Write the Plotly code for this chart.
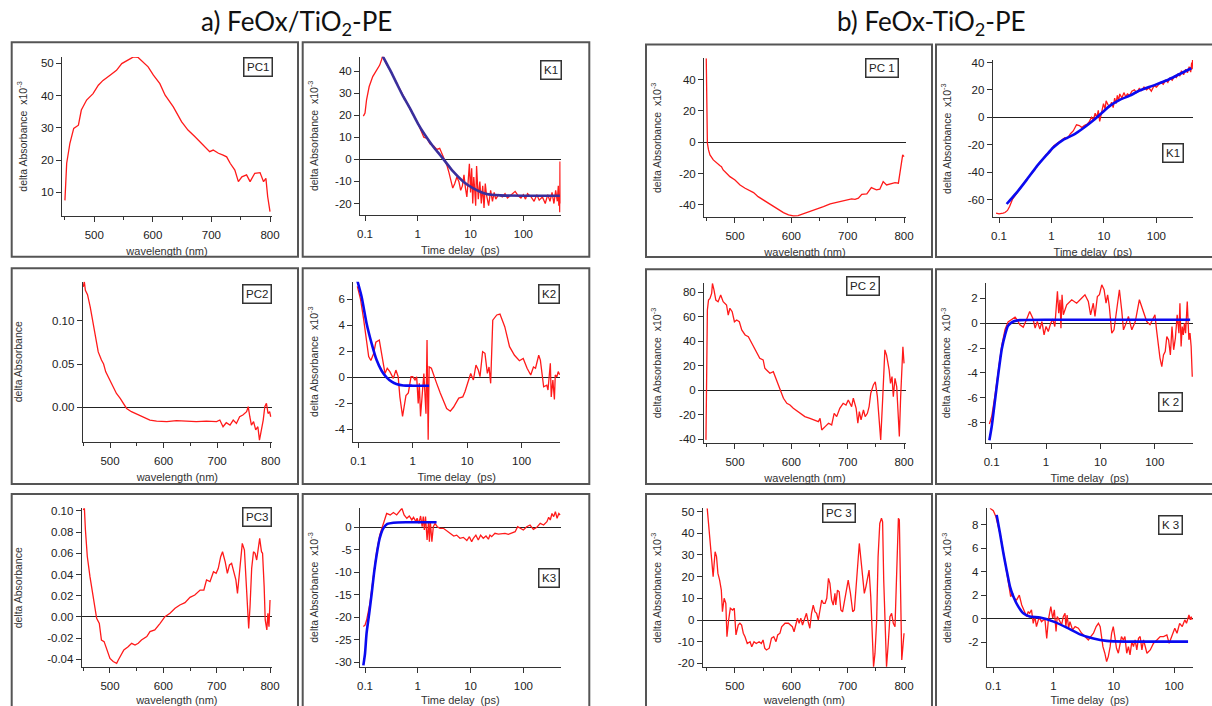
import plotly.graph_objects as go

W, H = 1212, 706

# ------------------------------------------------------------------ data
# a) FeOx/TiO2-PE  -- principal components (wavelength nm, dA)
pc1a = [(450, 7.5), (452, 13.8), (453, 19), (458.5, 25.2), (465, 29.8), (473, 30.8), (478, 35.5),
        (487, 38.6), (498, 40.6), (507, 43.2), (515, 44.7), (527, 46.3), (538, 47.8), (547, 49.9),
        (558, 51.1), (567, 52), (575, 51.8), (584, 50.4), (592, 48.9), (601, 46.3), (612, 43.7),
        (621, 40.1), (635, 36.5), (649, 31.9), (660, 29.3), (672, 27.2), (680, 25.7), (692, 23.6),
        (697, 22.6), (703, 23.1), (712, 22.1), (720, 21.5), (726, 21), (732, 19), (736, 17.9),
        (740, 16.9), (746, 13.3), (752, 14.8), (760, 15.4), (766, 13.3), (774, 15.9), (783, 16.1),
        (789, 13.3), (793, 14.3), (796, 8.7), (800, 4)]

pc2a = [(450, 0.139), (452, 0.145), (454, 0.135), (458, 0.130), (463, 0.116), (468, 0.097),
        (472, 0.0815), (478, 0.064), (484, 0.0546), (488, 0.05), (492, 0.041), (500, 0.0315),
        (506, 0.024), (512, 0.016), (519, 0.0104), (525, 0.0038), (531, -0.0012), (540, -0.005),
        (550, -0.0077), (562, -0.0115), (574.5, -0.0146), (587, -0.0158), (606, -0.0165),
        (624, -0.0154), (643, -0.0158), (661, -0.0165), (680, -0.0158), (699, -0.0165),
        (705, -0.0146), (711, -0.0223), (717, -0.0177), (724, -0.0204), (730, -0.0146),
        (736, -0.0185), (742, -0.0108), (748, -0.0088), (755, -0.005), (758, 0.0008),
        (761, -0.0108), (764, -0.0204), (768, -0.0165), (772, -0.026), (776, -0.0223),
        (779, -0.0377), (782, -0.028), (786, -0.0146), (789, 0.0008), (792, 0.0046),
        (795, -0.007), (798, -0.005), (800, -0.0108)]

pc3a = [(450, 0.1008), (452, 0.103), (454, 0.082), (457.5, 0.057), (462.5, 0.038), (469, 0.016),
        (475, -0.0013), (480, -0.006), (484, -0.0217), (489, -0.0232), (494, -0.031), (500, -0.039),
        (506, -0.042), (512.5, -0.0436), (515.6, -0.0405), (520, -0.0358), (526, -0.031),
        (534, -0.028), (540.6, -0.0248), (547, -0.0264), (553, -0.0248), (559, -0.0217),
        (569, -0.0185), (575, -0.0138), (584, -0.0122), (594, -0.006), (603, 0.0003),
        (612.5, 0.0035), (622, 0.0082), (631, 0.0113), (640.6, 0.0135), (650, 0.0185),
        (659, 0.0207), (669, 0.0254), (676, 0.0254), (681, 0.0349), (687.5, 0.0333),
        (694, 0.0427), (699, 0.0411), (703, 0.0458), (707.5, 0.0568), (711, 0.0615),
        (716, 0.052), (720, 0.0411), (724, 0.049), (728, 0.0505), (732.5, 0.0411),
        (736, 0.0349), (739, 0.0223), (744, 0.0474), (748, 0.0694), (752, 0.0631),
        (755, 0.0349), (758, 0.0035), (760, -0.0107), (762.5, 0.0097), (765.6, 0.0458),
        (769, 0.0615), (772, 0.06), (775, 0.0537), (778, 0.0631), (780.6, 0.074), (784, 0.0615),
        (786, 0.06), (789, 0.0286), (791, -0.0028), (794, -0.0122), (796, 0.0035),
        (798, -0.0091), (799, 0.0097), (800, 0.016)]

# a) kinetics (time ps, dA x1e-3) and fits
k1a = [(0.093, 19.6), (0.1, 21), (0.107, 27), (0.12, 33), (0.14, 37.5), (0.166, 40.5), (0.19, 42.7),
       (0.205, 45), (0.216, 46.8), (0.25, 43.5), (0.3, 40.3), (0.4, 34.5), (0.53, 28.5), (0.71, 23),
       (1.0, 16.5), (1.2, 12.5), (1.3, 10), (1.5, 9.5), (1.7, 7), (2.0, 6), (2.3, 4.5), (2.6, 5),
       (2.9, 2.5), (3.3, -0.5), (3.6, -3), (3.9, -6), (4.3, -10), (4.6, -13), (5.0, -11), (5.5, -8),
       (6.0, -10), (6.5, -14), (7.0, -12), (7.5, -7), (8, -13), (8.5, -17), (9, -10), (9.5, -2),
       (10, -15), (10.5, -4), (11, -20), (11.5, -8), (12, -14), (12.5, -21), (13, -3), (14, -18),
       (15, -10), (16, -20), (17, -12), (18, -22), (19, -11), (20, -16), (22, -21), (24, -14),
       (26, -19), (28, -15), (30, -18), (34, -16), (40, -17), (45, -15.5), (50, -17.5), (60, -16),
       (70, -14.5), (80, -16.5), (90, -17.5), (100, -16), (110, -18), (120, -15.5), (140, -17),
       (160, -19), (180, -16), (200, -18.5), (230, -17), (260, -20), (290, -16), (320, -19),
       (350, -15), (380, -20), (410, -14), (440, -19), (460, -12), (470, -21), (480, -16),
       (490, -24), (495, -1), (500, -20)]
k1a_fit = [(0.216, 46.8), (0.298, 40.5), (0.398, 34.4), (0.532, 28.4), (0.713, 23.1), (1, 16.3),
           (1.37, 11), (1.97, 5.7), (2.64, 2), (3.53, -1.8), (4.72, -5.6), (7.31, -10.1),
           (11.3, -13.1), (20.2, -15.7), (36.2, -16.3), (155, -16.5), (492, -16.5)]

k2a = [(0.096, 7.0), (0.11, 6.0), (0.125, 4.5), (0.14, 3.0), (0.155, 1.6), (0.17, 1.3), (0.19, 1.8),
       (0.21, 2.7), (0.243, 2.87), (0.309, 0.3), (0.34, 0.7), (0.38, 0.44), (0.44, -0.08),
       (0.49, 0.56), (0.54, 0.05), (0.58, -1.5), (0.65, -3.0), (0.75, -1.4), (0.83, -1.2),
       (0.93, 0.05), (1.0, 0.05), (1.1, -0.2), (1.18, 0.05), (1.26, -2.0), (1.32, -0.46),
       (1.39, -3.0), (1.52, -0.7), (1.6, 0.3), (1.75, -2.8), (1.83, 2.87), (1.92, -4.8), (2.0, 0.8),
       (2.2, 0.7), (2.35, 0.3), (2.75, -0.46), (3.2, -1.2), (4.2, -2.4), (4.9, -2.6), (5.6, -2.3),
       (7.0, -1.6), (8.3, -1.5), (9.1, -1.1), (10.5, -0.2), (11.6, 0.3), (13, -0.2), (14.5, 0.95),
       (16, 0.56), (17.2, 0.05), (19.2, 1.97), (21.2, 1.85), (23.5, 0.3), (25.2, 0.8), (27, -0.46),
       (29.5, 4.4), (35, 4.8), (40, 4.87), (49, 3.9), (60, 2.36), (74, 1.7), (91, 1.28),
       (107, 1.46), (126, 0.7), (147, 0.18), (165, 0.8), (180, 0.7), (206, 1.7), (221, 1.33),
       (254, -0.72), (290, -0.6), (305, -0.97), (337, 1.08), (350, -1.5), (375, -0.2),
       (400, -1.7), (415, 0.18), (445, 0.05), (470, 0.44), (500, 0.2)]
k2a_fit = [(0.096, 7.44), (0.115, 6.2), (0.142, 4.15), (0.176, 2.6), (0.217, 1.33), (0.268, 0.51),
           (0.33, 0), (0.41, -0.33), (0.5, -0.51), (0.67, -0.62), (1, -0.64), (2.0, -0.64)]

k3a = [(0.093, -22.1), (0.1, -21.8), (0.107, -20.7), (0.124, -17), (0.144, -11), (0.166, -5.5),
       (0.19, -1.8), (0.215, 0.07), (0.24, 1.93), (0.257, 3.0), (0.3, 2.67), (0.345, 3.2),
       (0.398, 2.67), (0.46, 3.8), (0.5, 4.15), (0.55, 2.67), (0.62, 1.93), (0.69, 2.44),
       (0.77, 1.56), (0.83, 2.15), (0.92, 1.19), (0.97, 1.93), (1.05, 0.8), (1.13, 2.44),
       (1.21, 0.07), (1.27, 2.3), (1.33, -0.67), (1.4, 2.3), (1.5, -2.9), (1.6, 1.19),
       (1.66, -3.26), (1.73, 1.19), (1.85, -3.26), (1.97, 0.07), (2.12, 0.8), (2.34, 0.07),
       (2.63, -0.3), (3.06, -0.3), (3.5, -0.8), (4.1, -1.4), (4.8, -2.0), (5.45, -1.8), (6.3, -2.5),
       (7.3, -2.3), (8.5, -3.0), (9.5, -2.15), (10.5, -3.26), (11.3, -2.5), (12.6, -1.8),
       (14.0, -2.9), (15.5, -1.8), (17.4, -2.5), (19.6, -2.0), (21.8, -2.7), (23.3, -1.8),
       (25.1, -2.15), (29, -1.4), (33.6, -1.56), (39, -1.56), (45, -1.4), (52, -1.63), (60, -1.26),
       (70, -1.04), (78, 0.07), (86, -0.3), (100, -0.67), (116, 0.07), (134, 0.44), (155, -0.52),
       (180, -0.07), (209, 0.8), (242, 0.44), (280, 1.19), (302, 2.15), (324, 1.56), (349, 3.0),
       (376, 2.3), (405, 3.4), (436, 1.93), (470, 3.0), (500, 2.67)]
k3a_fit = [(0.093, -30.7), (0.1, -28.1), (0.107, -23.6), (0.12, -19.2), (0.134, -14.7),
           (0.148, -10.3), (0.166, -6.2), (0.19, -2.5), (0.222, -0.3), (0.265, 0.67),
           (0.345, 0.96), (0.62, 1.04), (2.27, 1.04)]

# b) FeOx-TiO2-PE -- principal components (wavelength nm, dA x1e-3)
pc1b = [(449, 53.7), (449.5, 27), (450, 5.8), (451, -0.6), (453, -4.9), (455.6, -8.1),
        (461.5, -11.3), (467.5, -13.4), (473, -14.9), (476, -15.6), (479, -17.7), (485, -19.8),
        (491, -22), (500, -24.1), (509, -27.3), (518, -29.4), (527, -30.9), (533, -32.2),
        (541, -34.8), (550, -36.9), (559, -39), (568, -41.2), (577, -43.3), (586, -45),
        (595, -46.5), (603.5, -47.1), (612, -46.9), (621, -45.8), (630, -44.8), (639, -43.7),
        (648, -42.6), (657, -41.2), (669, -39.4), (680, -38.4), (689, -37.5), (698, -36.9),
        (707, -36.2), (713, -36.5), (719, -35.8), (725, -33.3), (734, -33), (742, -29),
        (751, -30.5), (757, -30), (763, -25.2), (769, -27.3), (775, -26.7), (784, -25.8),
        (790, -26.2), (794, -15.6), (797.6, -8.1), (800, -9.2)]

pc2b = [(448.5, -40.5), (450, 41), (451, 65.6), (453, 73.7), (455.6, 75), (458.6, 79.2), (460, 87.3),
        (462.7, 82), (466, 73.7), (470, 72.4), (474.6, 77.8), (479, 72.4), (485, 69.7), (488, 61.5),
        (491, 67), (495, 64.2), (499, 56), (503, 57.4), (507.7, 56), (512, 49.3), (518, 45.2),
        (523.7, 43.8), (531, 37), (538.5, 30.2), (544, 26.1), (550, 24.8), (553, 18), (556, 16.6),
        (562, 13.9), (568, 15.2), (574, 8.4), (580, 1.6), (586, -6.5), (592, -10.6), (597.6, -12),
        (603.5, -14.7), (609.5, -16.6), (615, -18.8), (624, -21.5), (633, -22.9), (642, -24.2),
        (648, -25.6), (651, -22.9), (654, -32.4), (660, -29.7), (666, -26.9), (671.6, -28.3),
        (676, -18.8), (680.5, -21.5), (686, -14.7), (692, -10.6), (697, -12), (701, -7.9),
        (707, -13.3), (710, -6.5), (715, -14.7), (718, -26.9), (720.7, -17.4), (723.7, -24.2),
        (728, -16), (731, -21.5), (735, -18.8), (738, -13.3), (741, -2.4), (745.6, 4.4), (749, 7),
        (752.7, -5.2), (756, -24.2), (758.6, -40.5), (762, -7.9), (766, 33), (769, 28.8),
        (773.6, 16.6), (776, 5.7), (778.7, 11.2), (781, -5.2), (784, 9.8), (787, 3), (790, -25.6),
        (791.7, -37.8), (794, -5.2), (796, 13.9), (798, 35.6), (800, 22)]

pc3b = [(451, 51.5), (453, 44.5), (456, 36.9), (459, 27.6), (461.5, 20), (463, 23.8), (465, 31.5),
        (467.5, 29.2), (470, 21.5), (473, 18.4), (476, 13.8), (478, 3.8), (481, 10), (484, 7.7),
        (486, -7.7), (489, 0), (492, 5.4), (496, 4.6), (499, 5.4), (502, -6.9), (506, -2.3),
        (509, -1.5), (512, -2.3), (515, -6.1), (518, -7.7), (522, -10.8), (527, -10), (530, -12.3),
        (534, -10), (538, -10.8), (543, -10), (547, -10.8), (550, -9.2), (553, -13), (556, -13.8),
        (561, -13), (565, -8.4), (569, -7.7), (573, -10), (576, -6.9), (580, -6.1), (583, -3.1),
        (589, -1.5), (595, -1.5), (598, -2.3), (602, -3.1), (605, -5.4), (608, -1.5), (611, 0.8),
        (614, -1.5), (617, 0.8), (620, -2.3), (624, 1.5), (627, 3.1), (630, -0.8), (633, -3.8),
        (636, 3.1), (639, 6.9), (642, 3.8), (645, 3.1), (648, 0), (651, 4.6), (654, 9.2),
        (657, 7.7), (660, 7.7), (663, 10), (666, 19.2), (668.6, 16.9), (671.6, 9.2), (674.5, 6.9),
        (677.5, 12.3), (679, 6.9), (682, 13.8), (685, 13), (688, 4.6), (691, 3.8), (694, 8.4),
        (697, 13.8), (701, 18.4), (705, 12.3), (709, 3.8), (712, 4.6), (715, 16.9), (718, 24.6),
        (720.7, 35.3), (723.7, 27.6), (726.6, 18.4), (729.6, 12.3), (732.5, 15.4), (735.5, 20),
        (738, 23), (741, 10.8), (744, -9.2), (746, -21.5), (748.5, -15.4), (751.5, 0), (754, 29.2),
        (757, 44.5), (760, 46.9), (762, 45.3), (764, 18.4), (766.9, -6.1), (769, -21.5),
        (772, -10.8), (775, 1.5), (778, 3.1), (781, -1.5), (784, -3.1), (787, 26.1), (790, 46.9),
        (791.7, 46.1), (794, 18.4), (796, -18.4), (798, -12.3), (800, -6.1)]

# b) kinetics (time ps, dA x1e-3) and fits
k1b = [(0.088, -70), (0.1, -70.5), (0.12, -70), (0.13, -69.5), (0.145, -68), (0.16, -65),
       (0.18, -60), (0.22, -55), (0.27, -50), (0.34, -45), (0.42, -41), (0.52, -36), (0.6, -33),
       (0.7, -30), (0.8, -27), (0.9, -26), (1.0, -24), (1.1, -21), (1.2, -20), (1.4, -18),
       (1.6, -17), (1.8, -15), (2.0, -15.5), (2.3, -12), (2.6, -10), (3.0, -5.5), (3.4, -6),
       (3.8, -7.5), (4.2, -6), (4.8, -5), (5.3, -3), (5.8, 0), (6.3, -2), (6.8, 3), (7.3, 0),
       (7.8, 5), (8.3, -3), (8.8, 2), (9.3, 8), (9.8, 10), (10.5, 6), (11, 12), (12, 9), (13, 8),
       (14, 11), (15, 7), (16, 14), (17, 10), (18, 16), (19, 12), (20, 17), (22, 14), (24, 18),
       (26, 15), (28, 17), (31, 16), (34, 19), (38, 20), (42, 18), (47, 21), (52, 19.5), (58, 22),
       (65, 20), (72, 21.5), (80, 19), (90, 23), (100, 22), (110, 24), (120, 25.5), (135, 24),
       (150, 27), (165, 25.5), (180, 28.5), (200, 27), (220, 30), (240, 29), (260, 32), (280, 30),
       (300, 34), (330, 31), (360, 35), (390, 32.5), (420, 37), (450, 33), (470, 40), (480, 35),
       (490, 43), (500, 38)]
k1b_fit = [(0.14, -63.3), (0.217, -55), (0.336, -45.7), (0.52, -36), (0.807, -27.5), (1.08, -22.1),
           (1.67, -16.5), (2.6, -12.9), (4.02, -8), (6.23, -2.4), (8.97, 2.9), (12.9, 8.3),
           (20, 12.7), (31, 15.8), (48, 19.5), (86.5, 23.1), (155, 26.8), (278, 31.6), (462, 35.8)]

k2b = [(0.0906, -8.1), (0.1, -7.5), (0.115, -5.8), (0.133, -3.8), (0.153, -1.8), (0.176, -0.5),
       (0.2, 0.1), (0.269, 0.48), (0.29, 0.3), (0.33, -0.13), (0.38, -0.32), (0.44, 0.32),
       (0.5, 0.94), (0.57, 0.4), (0.63, -0.4), (0.69, 0.13), (0.77, -0.48), (0.84, 0.13),
       (0.92, -0.94), (1.0, -0.27), (1.1, -0.67), (1.22, 0), (1.33, 0.32), (1.45, -0.27),
       (1.53, 1.34), (1.62, 2.55), (1.71, 0.8), (1.81, 1.88), (1.88, -0.4), (1.97, 2.28),
       (2.08, 0.67), (2.4, 1.47), (2.97, 1.88), (3.66, 1.6), (4.5, 2.0), (5.2, 2.28), (6.0, 1.74),
       (6.6, 0.67), (7.4, 1.6), (7.95, 0.54), (8.8, 2.14), (9.6, 2.28), (10.6, 3.08), (11.7, 2.68),
       (12.7, 1.6), (13.6, 2.28), (14.6, 1.34), (16.2, -0.8), (17.8, -0.54), (19.9, 1.2),
       (22.4, 2.68), (24.8, 0.94), (26.6, -0.54), (29.8, 0), (32.8, 0.54), (37.9, -0.54),
       (43.9, 0.13), (52.2, 1.88), (61.9, 0.94), (71.3, 0.13), (82, -0.13), (94.7, 0.4),
       (101, 0.67), (108, -0.54), (116, -1.88), (125, -2.8), (135, -3.5), (145, -2.55),
       (156, -2.28), (167, -1.07), (180, -1.34), (194, -2.55), (208, -0.27), (223, -2.14),
       (240, -1.2), (259, 0.67), (279, -0.8), (291, 1.6), (306, -1.88), (321, -0.27), (336, -0.94),
       (352, 0), (370, -0.8), (397, 1.74), (425, -1.34), (446, -0.8), (468, -1.88), (491, -4.3)]
k2b_fit = [(0.0906, -9.4), (0.1, -8.3), (0.115, -6.2), (0.133, -4.0), (0.153, -2.1), (0.176, -0.94),
           (0.2, -0.2), (0.25, 0.13), (0.33, 0.24), (1.36, 0.27), (449, 0.27)]

k3b = [(0.088, 9.4), (0.1, 9.2), (0.11, 8.7), (0.13, 7.2), (0.15, 5.4), (0.17, 3.8), (0.194, 1.88),
       (0.21, 2.15), (0.22, 1.7), (0.244, 1.6), (0.27, 2.0), (0.296, 1.16), (0.335, 0.6),
       (0.357, 0.17), (0.38, 0.6), (0.4, 0.45), (0.43, 0.74), (0.46, -0.4), (0.49, 0.17),
       (0.52, -0.68), (0.56, -0.11), (0.59, 0.03), (0.63, -0.26), (0.68, -0.11), (0.72, -0.11),
       (0.77, -1.68), (0.82, -0.11), (0.87, 0.45), (0.9, 1.02), (0.97, 0.03), (1.03, 0.74),
       (1.1, -1.1), (1.15, 0.17), (1.24, -0.11), (1.36, -0.54), (1.45, 0.17), (1.55, 0.45),
       (1.6, -0.68), (1.68, 0.31), (1.78, -0.82), (1.87, -0.26), (2.07, -0.97), (2.28, -0.68),
       (2.58, -0.82), (2.93, -1.25), (3.32, -1.53), (3.78, -1.82), (4.14, -1.53), (4.6, -1.25),
       (5.1, -0.68), (5.56, -0.4), (5.94, -0.68), (6.3, -1.53), (6.6, -2.39), (7.1, -2.95),
       (7.6, -3.66), (8.1, -3.24), (8.7, -2.39), (9.2, -1.25), (9.8, -0.68), (10.4, -1.53),
       (11.1, -2.53), (11.9, -2.95), (12.6, -2.39), (13.4, -1.53), (14.4, -1.82), (15.3, -1.53),
       (16.4, -2.95), (17.5, -2.39), (18.6, -3.1), (19.9, -1.96), (21.2, -2.39), (22.6, -1.82),
       (24.1, -2.67), (25.7, -1.68), (27.4, -1.53), (29.3, -2.67), (31.2, -1.82), (35.5, -2.95),
       (40.3, -2.67), (45.7, -2.1), (52, -1.82), (59, -1.53), (67, -1.53), (76, -1.39), (83, -2.1),
       (91, -1.53), (103, -0.82), (112, -1.25), (124, -0.4), (137, -0.68), (151, -0.11),
       (161, -0.4), (177, 0.31), (186, -0.11), (193, 0.17), (200, -0.11)]
k3b_fit = [(0.1135, 8.84), (0.129, 7.27), (0.147, 5.57), (0.166, 4.15), (0.189, 2.73), (0.215, 1.88),
           (0.26, 1.02), (0.315, 0.45), (0.4, 0.17), (0.595, 0.09), (1, -0.26), (1.66, -0.77),
           (2.75, -1.34), (4.6, -1.7), (7.6, -1.9), (16.4, -1.96), (45.5, -1.96), (171, -1.96)]

# tick labels
wl_ticks = [500, 600, 700, 800]
wl_minor = [450, 550, 650, 750]
t_ticks = [0.1, 1, 10, 100]
t_ticktext = ["0.1", "1", "10", "100"]

# ------------------------------------------------------------------ layout helpers
def fx(p):
    return p / W


def fy(p):
    return 1 - p / H


RED = "#ff1a1a"
BLUE = "#0a0af0"
AX = "#333333"
FONT = "Liberation Sans, Arial, sans-serif"

YT_K = "delta Absorbance  x10<sup>-3</sup>"
YT = "delta Absorbance"

# panel geometry (pixel boxes) and axis settings; ysd = y-title standoff
panels = [
    dict(d=pc1a, fit=None, x=(62, 272), y=(57, 216), xr=(445, 803.4), yr=(2.65, 51.95), log=False,
         yt=[10, 20, 30, 40, 50], yfmt="{:g}", ytitle=YT_K, ysd=11, lab="PC1", lab_xy=(257.5, 66.5)),
    dict(d=k1a, fit=k1a_fit, fitcol="#3a2f9c", x=(360, 560.7), y=(56.7, 215), xr=(-1.095, 2.708),
         yr=(-25.2, 46.5), log=True, yt=[-20, -10, 0, 10, 20, 30, 40], yfmt="{:g}", ytitle=YT_K,
         ysd=14, lab="K1", lab_xy=(550.5, 70)),
    dict(d=pc1b, fit=None, x=(704, 906), y=(58.3, 217.3), xr=(445, 803.5), yr=(-48, 53.7), log=False,
         yt=[-40, -20, 0, 20, 40], yfmt="{:g}", ytitle=YT_K, ysd=15, lab="PC 1", lab_xy=(881.5, 68)),
    dict(d=k1b, fit=k1b_fit, fitcol=BLUE, x=(992.7, 1193), y=(60, 217.3), xr=(-1.12, 2.697),
         yr=(-73, 41.8), log=True, yt=[-60, -40, -20, 0, 20, 40], yfmt="{:g}", ytitle=YT_K,
         ysd=14, lab="K1", lab_xy=(1172.8, 153.3)),
    dict(d=pc2a, fit=None, x=(82.7, 272), y=(281.7, 441.7), xr=(449, 802.4), yr=(-0.0396, 0.145),
         log=False, yt=[0.0, 0.05, 0.10], yfmt="{:.2f}", ytitle=YT, ysd=27, lab="PC2",
         lab_xy=(257.3, 294.5)),
    dict(d=k2a, fit=k2a_fit, fitcol=BLUE, x=(353.3, 560), y=(281.7, 441.7), xr=(-1.092, 2.705),
         yr=(-4.95, 7.36), log=True, yt=[-4, -2, 0, 2, 4, 6], yfmt="{:g}", ytitle=YT_K, ysd=14,
         lab="K2", lab_xy=(548.8, 294.5)),
    dict(d=pc2b, fit=None, x=(704, 906), y=(282.7, 443.3), xr=(445, 803.5), yr=(-43.3, 87.9),
         log=False, yt=[-40, -20, 0, 20, 40, 60, 80], yfmt="{:g}", ytitle=YT_K, ysd=15,
         lab="PC 2", lab_xy=(862.5, 285.8)),
    dict(d=k2b, fit=k2b_fit, fitcol=BLUE, x=(986, 1193.3), y=(283.3, 442.7), xr=(-1.105, 2.71),
         yr=(-9.6, 3.2), log=True, yt=[-8, -6, -4, -2, 0, 2], yfmt="{:g}", ytitle=YT_K, ysd=14,
         lab="K 2", lab_xy=(1170.5, 401.7)),
    dict(d=pc3a, fit=None, x=(81.7, 272), y=(508.3, 667.3), xr=(447, 803.7), yr=(-0.0474, 0.1024),
         log=False, yt=[-0.04, -0.02, 0.0, 0.02, 0.04, 0.06, 0.08, 0.10], yfmt="{:.2f}", ytitle=YT,
         ysd=22, lab="PC3", lab_xy=(257.3, 517)),
    dict(d=k3a, fit=k3a_fit, fitcol=BLUE, x=(360, 560.7), y=(508.3, 666.7), xr=(-1.095, 2.708),
         yr=(-31, 4.15), log=True, yt=[-30, -25, -20, -15, -10, -5, 0], yfmt="{:g}", ytitle=YT_K,
         ysd=14, lab="K3", lab_xy=(548.8, 577.5)),
    dict(d=pc3b, fit=None, x=(702.7, 906), y=(508.3, 667.3), xr=(443, 803.5), yr=(-21.8, 51.5),
         log=False, yt=[-20, -10, 0, 10, 20, 30, 40, 50], yfmt="{:g}", ytitle=YT_K, ysd=14,
         lab="PC 3", lab_xy=(838.8, 512.8)),
    dict(d=k3b, fit=k3b_fit, fitcol=BLUE, x=(986.7, 1192.7), y=(508.3, 667.3), xr=(-1.11, 2.31),
         yr=(-4.15, 9.4), log=True, yt=[-2, 0, 2, 4, 6, 8], yfmt="{:g}", ytitle=YT_K, ysd=14,
         lab="K 3", lab_xy=(1170.8, 525)),
]

# panel frames (pixel boxes)
frames = [
    (11.7, 42.3, 298, 256.7), (302.7, 42.3, 589.3, 256.7),
    (11.7, 268.3, 298, 484), (302.7, 268.3, 589.3, 484),
    (11.7, 494, 298, 730), (302.7, 494, 589.3, 730),
    (646, 44.5, 932, 257), (936, 44.5, 1240, 257),
    (646, 269.3, 932, 484), (936, 269.3, 1240, 484),
    (646, 494, 932, 730), (936, 494, 1240, 730),
]

fig = go.Figure()
annotations = []
shapes = []
layout = {}

tickfont = dict(family=FONT, size=11.5, color="#222")
titlefont = dict(family=FONT, size=11, color="#333")
ytitlefont = dict(family=FONT, size=10.5, color="#333")

for i, p in enumerate(panels, start=1):
    xa = "x" if i == 1 else f"x{i}"
    ya = "y" if i == 1 else f"y{i}"
    xs = [v[0] for v in p["d"]]
    ys = [v[1] for v in p["d"]]
    fig.add_trace(go.Scatter(x=xs, y=ys, mode="lines", xaxis=xa, yaxis=ya,
                             line=dict(color=RED, width=1.3), showlegend=False, hoverinfo="skip"))
    if p["fit"]:
        fig.add_trace(go.Scatter(x=[v[0] for v in p["fit"]], y=[v[1] for v in p["fit"]],
                                 mode="lines", xaxis=xa, yaxis=ya,
                                 line=dict(color=p["fitcol"], width=2.6, shape="spline", smoothing=0.6),
                                 showlegend=False, hoverinfo="skip"))

    x0, x1 = p["x"]
    ytop, ybot = p["y"]
    xkey = "xaxis" if i == 1 else f"xaxis{i}"
    ykey = "yaxis" if i == 1 else f"yaxis{i}"
    xcfg = dict(domain=[fx(x0), fx(x1)], anchor=ya, range=list(p["xr"]), showgrid=False,
                zeroline=False, showline=True, linecolor=AX, linewidth=1, ticks="outside",
                ticklen=5, tickwidth=1, tickcolor=AX, tickfont=tickfont, ticklabelstandoff=3,
                automargin=False,
                title=dict(text="Time delay  (ps)" if p["log"] else "wavelength (nm)",
                           font=titlefont, standoff=7))
    if p["log"]:
        xcfg.update(type="log", tickmode="array", tickvals=t_ticks, ticktext=t_ticktext)
    else:
        xcfg.update(tickmode="array", tickvals=wl_ticks, ticktext=[str(v) for v in wl_ticks],
                    minor=dict(tickmode="array", tickvals=wl_minor, ticks="outside",
                               ticklen=3, tickcolor=AX, tickwidth=1))
    layout[xkey] = xcfg
    layout[ykey] = dict(domain=[fy(ybot), fy(ytop)], anchor=xa, range=list(p["yr"]), showgrid=False,
                        zeroline=True, zerolinecolor="#222", zerolinewidth=1.2, showline=True,
                        linecolor=AX, linewidth=1, ticks="outside", ticklen=5, tickwidth=1,
                        tickcolor=AX, tickfont=tickfont, tickmode="array", tickvals=p["yt"],
                        ticktext=[p["yfmt"].format(v) for v in p["yt"]], automargin=False,
                        title=dict(text=p["ytitle"], font=ytitlefont, standoff=p["ysd"]))

    # boxed label
    lx, ly = p["lab_xy"]
    annotations.append(dict(text=p["lab"], x=fx(lx), y=fy(ly), xref="paper", yref="paper",
                            showarrow=False, xanchor="center", yanchor="middle",
                            bordercolor="#333", borderwidth=1.5, borderpad=2.5, bgcolor="white",
                            font=dict(family=FONT, size=11.5, color="#222")))

for (a, b, c, d) in frames:
    shapes.append(dict(type="rect", xref="paper", yref="paper", x0=fx(a), x1=fx(c), y0=fy(d), y1=fy(b),
                       line=dict(color="#555", width=2), layer="below"))

titlefont_big = dict(family="Lato, Open Sans, sans-serif", size=26, color="#111")
annotations.append(dict(text="a) FeOx/TiO<sub>2</sub>-PE", x=fx(296), y=fy(23), xref="paper",
                        yref="paper", showarrow=False, xanchor="center", yanchor="middle",
                        font=titlefont_big))
annotations.append(dict(text="b) FeOx-TiO<sub>2</sub>-PE", x=fx(931), y=fy(23), xref="paper",
                        yref="paper", showarrow=False, xanchor="center", yanchor="middle",
                        font=titlefont_big))

fig.update_layout(width=W, height=H, margin=dict(l=0, r=0, t=0, b=0), paper_bgcolor="white",
                  plot_bgcolor="white", showlegend=False, annotations=annotations, shapes=shapes,
                  **layout)

fig.write_html("out.html")
